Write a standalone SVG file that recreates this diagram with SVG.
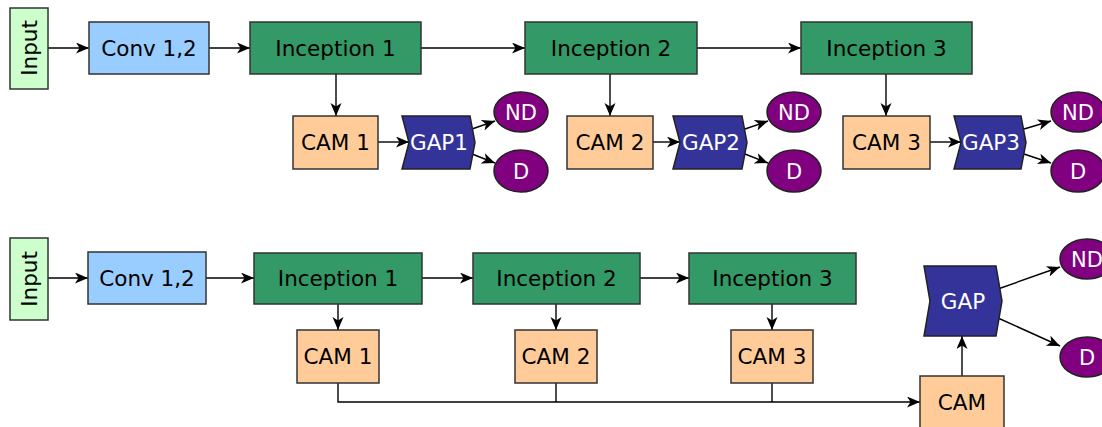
<svg xmlns="http://www.w3.org/2000/svg" width="1102" height="427" viewBox="0 0 1102 427">
<style>
text{font-family:"DejaVu Sans","Liberation Sans",sans-serif;font-size:21.5px;text-anchor:middle;fill:#000}
.box{stroke:#333;stroke-width:1.5}
.inp{fill:#ccffcc}
.conv{fill:#99ccff}
.inc{fill:#339966}
.cam{fill:#ffcc99}
.gap{fill:#333399;stroke:#222;stroke-width:1.5}
.ell{fill:#800080;stroke:#222;stroke-width:1.5}
.w{fill:#fff}
.e{font-size:21px}
.c{fill:none;stroke:#000;stroke-width:1.4}
.a{marker-end:url(#arr)}
</style>
<defs>
<marker id="arr" markerUnits="userSpaceOnUse" markerWidth="15" markerHeight="12" refX="13" refY="5.5" orient="auto">
<path d="M0,0 L13,5.5 L0,11 L3.5,5.5 z" fill="#000"/>
</marker>
</defs>
<g id="connectors">
<path class="c a" d="M48,48 L89,48"/>
<path class="c a" d="M209,48 L250,48"/>
<path class="c a" d="M421,48 L525,48"/>
<path class="c a" d="M697,48 L801,48"/>
<path class="c a" d="M336,74 L336,116"/>
<path class="c a" d="M610,74 L610,116"/>
<path class="c a" d="M886,74 L886,116"/>
<path class="c a" d="M378,142 L409,142"/>
<path class="c a" d="M653,142 L680,142"/>
<path class="c a" d="M930,142 L961,142"/>
<path class="c a" d="M472,129 L495,121"/>
<path class="c a" d="M472,154 L495,163"/>
<path class="c a" d="M745,129 L768,121"/>
<path class="c a" d="M745,154 L768,163"/>
<path class="c a" d="M1024,129 L1051,121"/>
<path class="c a" d="M1024,154 L1051,163"/>
<path class="c a" d="M48,278 L88,278"/>
<path class="c a" d="M206,278 L254,278"/>
<path class="c a" d="M422,278 L473,278"/>
<path class="c a" d="M640,278 L689,278"/>
<path class="c a" d="M338,304 L338,330"/>
<path class="c a" d="M556,304 L556,330"/>
<path class="c a" d="M772,304 L772,330"/>
<path class="c a" d="M338,383 L338,402 L920,402"/>
<path class="c" d="M556,383 L556,402"/>
<path class="c" d="M772,383 L772,402"/>
<path class="c a" d="M962,376 L962,336"/>
<path class="c a" d="M998,289 L1060,267"/>
<path class="c a" d="M998,318 L1060,346"/>
</g>
<g id="input1"><rect class="box inp" x="10" y="8" width="38" height="81"/><text transform="translate(29,48) rotate(-90)" y="7.5">Input</text></g>
<g id="conv1"><rect class="box conv" x="89" y="22" width="120" height="52"/><text x="149" y="55.5">Conv 1,2</text></g>
<g id="inc1a"><rect class="box inc" x="250" y="22" width="171" height="52"/><text x="335.5" y="55.5">Inception 1</text></g>
<g id="inc2a"><rect class="box inc" x="525" y="22" width="172" height="52"/><text x="611" y="55.5">Inception 2</text></g>
<g id="inc3a"><rect class="box inc" x="801" y="22" width="171" height="52"/><text x="886.5" y="55.5">Inception 3</text></g>
<g id="cam1a"><rect class="box cam" x="293" y="116" width="85" height="53"/><text x="335.5" y="150">CAM 1</text></g>
<g id="cam2a"><rect class="box cam" x="567" y="116" width="86" height="53"/><text x="610" y="150">CAM 2</text></g>
<g id="cam3a"><rect class="box cam" x="843" y="116" width="87" height="53"/><text x="886.5" y="150">CAM 3</text></g>
<g id="gap1"><path class="gap" d="M402,116 L470,116 L475,142.5 L470,169 L402,169 L409,142.5 z"/><text class="w" x="439" y="150">GAP1</text></g>
<g id="gap2"><path class="gap" d="M673,116 L742,116 L747,142.5 L742,169 L673,169 L680,142.5 z"/><text class="w" x="711" y="150">GAP2</text></g>
<g id="gap3"><path class="gap" d="M954,116 L1021,116 L1026,142.5 L1021,169 L954,169 L961,142.5 z"/><text class="w" x="991" y="150">GAP3</text></g>
<g id="nd1"><ellipse class="ell" cx="521" cy="112" rx="27" ry="20"/><text class="w e" x="521" y="119.5">ND</text></g>
<g id="d1"><ellipse class="ell" cx="521" cy="171" rx="27" ry="21"/><text class="w e" x="521" y="178.5">D</text></g>
<g id="nd2"><ellipse class="ell" cx="794" cy="112" rx="27" ry="20"/><text class="w e" x="794" y="119.5">ND</text></g>
<g id="d2"><ellipse class="ell" cx="794" cy="171" rx="27" ry="21"/><text class="w e" x="794" y="178.5">D</text></g>
<g id="nd3"><ellipse class="ell" cx="1078" cy="112" rx="27" ry="20"/><text class="w e" x="1078" y="119.5">ND</text></g>
<g id="d3"><ellipse class="ell" cx="1078" cy="171" rx="27" ry="21"/><text class="w e" x="1078" y="178.5">D</text></g>
<g id="input2"><rect class="box inp" x="10" y="238" width="38" height="82"/><text transform="translate(29,279) rotate(-90)" y="7.5">Input</text></g>
<g id="conv2"><rect class="box conv" x="88" y="252" width="118" height="52"/><text x="147" y="285.5">Conv 1,2</text></g>
<g id="inc1b"><rect class="box inc" x="254" y="253" width="168" height="51"/><text x="338" y="285.5">Inception 1</text></g>
<g id="inc2b"><rect class="box inc" x="473" y="253" width="167" height="51"/><text x="556.5" y="285.5">Inception 2</text></g>
<g id="inc3b"><rect class="box inc" x="689" y="253" width="167" height="51"/><text x="772.5" y="285.5">Inception 3</text></g>
<g id="cam1b"><rect class="box cam" x="297" y="330" width="82" height="53"/><text x="338" y="364">CAM 1</text></g>
<g id="cam2b"><rect class="box cam" x="515" y="330" width="82" height="53"/><text x="556" y="364">CAM 2</text></g>
<g id="cam3b"><rect class="box cam" x="731" y="330" width="82" height="53"/><text x="772" y="364">CAM 3</text></g>
<g id="camb"><rect class="box cam" x="920" y="376" width="84" height="60"/><text x="962" y="410">CAM</text></g>
<g id="gapb"><path class="gap" d="M924,266 L996,266 L1002,301 L996,336 L924,336 L930,301 z"/><text class="w" x="963" y="308.5">GAP</text></g>
<g id="ndb"><ellipse class="ell" cx="1087" cy="259" rx="27" ry="20"/><text class="w e" x="1087" y="266.5">ND</text></g>
<g id="db"><ellipse class="ell" cx="1087" cy="357" rx="27" ry="20"/><text class="w e" x="1087" y="364.5">D</text></g>
</svg>
